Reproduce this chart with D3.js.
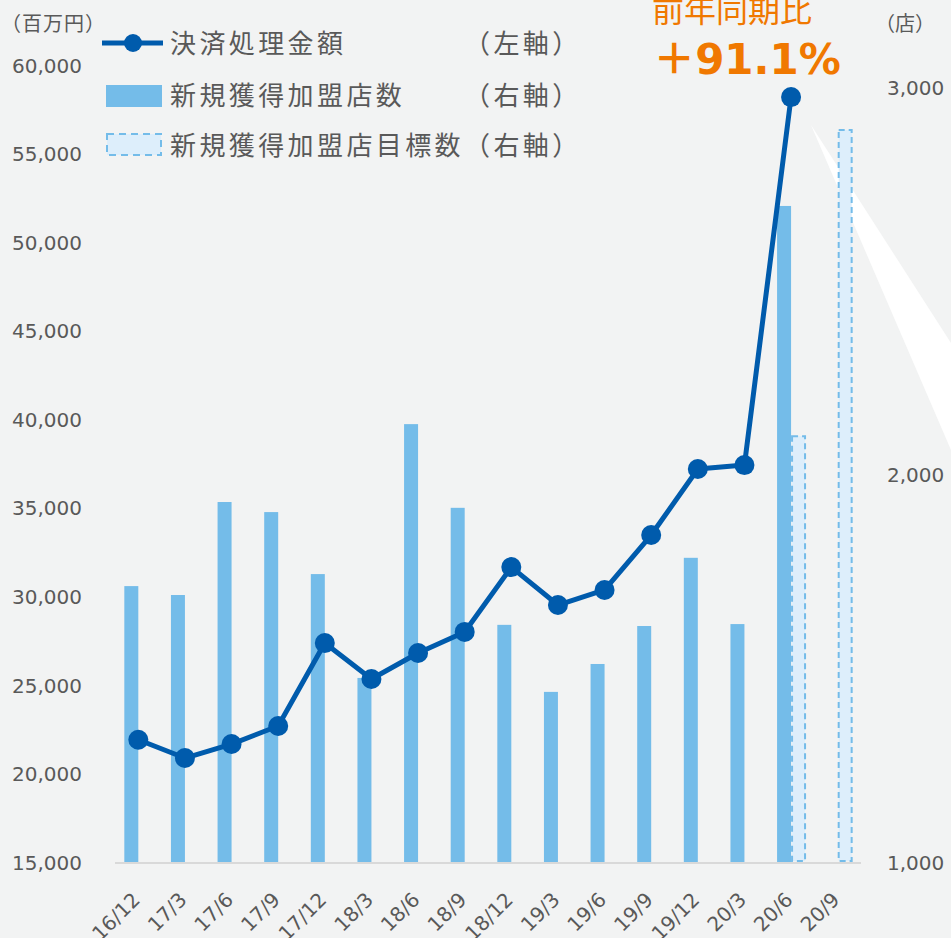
<!DOCTYPE html>
<html><head><meta charset="utf-8">
<script src="https://cdn.jsdelivr.net/npm/d3@7"></script>
<style>
html,body{margin:0;padding:0;background:#F2F3F3;}
svg{display:block;}
</style></head>
<body>
<svg id="chart" width="951" height="938"></svg>
<script>
const categories = ["16/12","17/3","17/6","17/9","17/12","18/3","18/6","18/9","18/12","19/3","19/6","19/9","19/12","20/3","20/6","20/9"];
const amounts = [21900,20870,21660,22680,27360,25330,26800,27990,31650,29510,30360,33460,37190,37410,58190,null];
const merchants = [1712,1689,1929,1903,1743,1475,2130,1914,1612,1439,1511,1609,1785,1614,2693,null];
const targets = [null,null,null,null,null,null,null,null,null,null,null,null,null,null,2099,2889];
const leftTicks = [15000,20000,25000,30000,35000,40000,45000,50000,55000,60000];
const rightTicks = [1000,2000,3000];
const legendLabels = ["決済処理金額","新規獲得加盟店数","新規獲得加盟店目標数"];
const legendAxes = ["（左軸）","（右軸）","（右軸）"];

const svg = d3.select("#chart");
const numFont = "'DejaVu Sans', sans-serif";
const jpFont = "'Noto Sans CJK JP', sans-serif";
const textCol = "#595959";
const barCol = "#74BCE9";
const lineCol = "#005BAC";
const orange = "#F07800";

const x = d3.scaleBand().domain(categories).range([115,861]).padding(0);
const yL = d3.scaleLinear().domain([15000,60000]).range([862,65]);
const yR = d3.scaleLinear().domain([1000,3000]).range([862,87]);
const cx = c => x(c) + x.bandwidth()/2;
const bw = x.bandwidth()*0.3;

// white wedge
svg.append("polygon").attr("points","811,125 951,343 951,450").attr("fill","#ffffff");

// axis line
svg.append("line").attr("x1",115).attr("x2",861).attr("y1",863).attr("y2",863)
  .attr("stroke","#D9D9D9").attr("stroke-width",2);

// bars
svg.append("g").selectAll("rect").data(categories.map((c,i)=>({c,v:merchants[i]})).filter(d=>d.v!=null))
  .join("rect")
  .attr("x",d=>cx(d.c)-bw).attr("width",bw)
  .attr("y",d=>yR(d.v)).attr("height",d=>yR(1000)-yR(d.v))
  .attr("fill",barCol);

// target bars
svg.append("g").selectAll("rect").data(categories.map((c,i)=>({c,v:targets[i]})).filter(d=>d.v!=null))
  .join("rect")
  .attr("x",d=>cx(d.c)+1).attr("width",bw-1)
  .attr("y",d=>yR(d.v)).attr("height",d=>yR(1000)-yR(d.v)-1)
  .attr("fill","#DDEEFB").attr("stroke",barCol).attr("stroke-width",2).attr("stroke-dasharray","6,4");

// line
const lineData = categories.map((c,i)=>({c,v:amounts[i]})).filter(d=>d.v!=null);
svg.append("path").datum(lineData)
  .attr("d",d3.line().x(d=>cx(d.c)).y(d=>yL(d.v)))
  .attr("fill","none").attr("stroke",lineCol).attr("stroke-width",5).attr("stroke-linejoin","round");
svg.append("g").selectAll("circle").data(lineData).join("circle")
  .attr("cx",d=>cx(d.c)).attr("cy",d=>yL(d.v)).attr("r",10).attr("fill",lineCol);

// left axis
const gL = svg.append("g").attr("transform","translate(82,0)")
  .call(d3.axisLeft(yL).tickValues(leftTicks).tickSize(0).tickPadding(0).tickFormat(d3.format(",")));
gL.select(".domain").remove();
gL.selectAll("text").attr("font-family",numFont).attr("font-size",20).attr("fill",textCol)
  .attr("dy","0.36em").attr("x",0);

// right axis
const gR = svg.append("g").attr("transform","translate(887,0)")
  .call(d3.axisRight(yR).tickValues(rightTicks).tickSize(0).tickPadding(0).tickFormat(d3.format(",")));
gR.select(".domain").remove();
gR.selectAll("text").attr("font-family",numFont).attr("font-size",20).attr("fill",textCol)
  .attr("dy","0.36em").attr("x",0);

// x labels
svg.append("g").selectAll("text").data(categories).join("text")
  .attr("transform",d=>`translate(${cx(d)+3},901) rotate(-45)`)
  .attr("text-anchor","end")
  .attr("font-family",numFont).attr("font-size",20).attr("fill",textCol)
  .text(d=>d);

// unit labels
svg.append("text").attr("x",1).attr("y",31).attr("font-family",jpFont).attr("font-size",20)
  .attr("letter-spacing","1px").attr("fill",textCol).text("（百万円）");
svg.append("text").attr("x",875).attr("y",31).attr("font-family",jpFont).attr("font-size",20)
  .attr("fill",textCol).text("（店）");

// legend
const lg = svg.append("g");
const rowY = [43,95,145];
lg.append("line").attr("x1",102).attr("x2",163).attr("y1",rowY[0]).attr("y2",rowY[0])
  .attr("stroke",lineCol).attr("stroke-width",5);
lg.append("circle").attr("cx",133).attr("cy",rowY[0]).attr("r",9).attr("fill",lineCol);
lg.append("rect").attr("x",106).attr("y",85).attr("width",56).attr("height",22).attr("fill",barCol);
lg.append("rect").attr("x",107).attr("y",134).attr("width",54).attr("height",21)
  .attr("fill","#DDEEFB").attr("stroke",barCol).attr("stroke-width",2).attr("stroke-dasharray","7,5");
const baseY = [53,105,155];
const row3 = lg.append("text").attr("x",170).attr("y",baseY[2]).attr("font-family",jpFont)
  .attr("font-size",26).attr("letter-spacing","3.4px").attr("fill",textCol)
  .text(legendLabels[2]+legendAxes[2]);
const endX = 170 + row3.node().getComputedTextLength();
[0,1].forEach(i=>{
  lg.append("text").attr("x",170).attr("y",baseY[i]).attr("font-family",jpFont)
    .attr("font-size",26).attr("letter-spacing","3.4px").attr("fill",textCol).text(legendLabels[i]);
  lg.append("text").attr("x",endX).attr("y",baseY[i]).attr("text-anchor","end").attr("font-family",jpFont)
    .attr("font-size",26).attr("letter-spacing","3.4px").attr("fill",textCol).text(legendAxes[i]);
});

// annotation
svg.append("text").attr("x",732).attr("y",22).attr("text-anchor","middle")
  .attr("font-family",jpFont).attr("font-size",32).attr("fill",orange).text("前年同期比");
const ann = svg.append("text").attr("x",747).attr("y",74).attr("text-anchor","middle")
  .attr("font-weight","bold").attr("font-size",42).attr("fill",orange);
ann.append("tspan").attr("font-family",jpFont).text("＋");
ann.append("tspan").attr("font-family",numFont).text("91.1%");
</script>
</body></html>
